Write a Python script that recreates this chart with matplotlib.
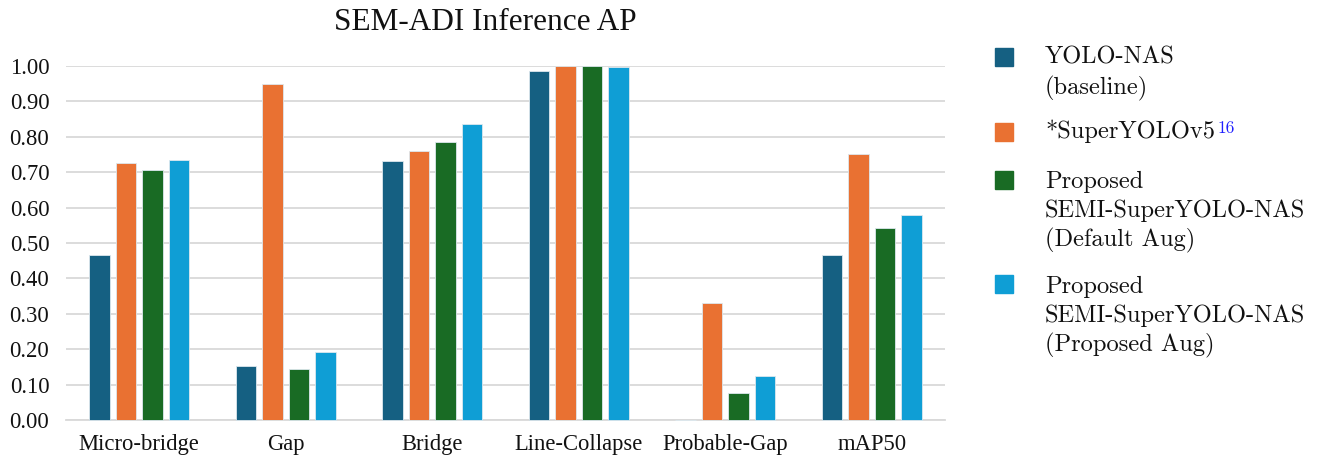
import numpy as np
import matplotlib.pyplot as plt

clases = ['Micro-bridge', 'Gap', 'Bridge', 'Line-Collapse', 'Probable-Gap', 'mAP50']
yolo_nas = [0.466, 0.153, 0.732, 0.986, 0.0, 0.466]
super_yolov5 = [0.727, 0.949, 0.760, 1.0, 0.330, 0.751]
semi_default = [0.706, 0.144, 0.785, 1.0, 0.076, 0.542]
semi_propuesto = [0.734, 0.192, 0.836, 0.997, 0.124, 0.579]

series = [yolo_nas, super_yolov5, semi_default, semi_propuesto]
colores = ['#156082', '#E97132', '#196B24', '#0F9ED5']
etiquetas = [['YOLO-NAS', '(baseline)'],
             ['*SuperYOLOv5'],
             ['Proposed', 'SEMI-SuperYOLO-NAS', '(Default Aug)'],
             ['Proposed', 'SEMI-SuperYOLO-NAS', '(Proposed Aug)']]
ticks_y = np.arange(0, 1.01, 0.1)

plt.rcParams['font.family'] = ['Liberation Serif', 'DejaVu Serif']

W, H = 1320, 459
fig = plt.figure(figsize=(W / 100, H / 100), dpi=100)
ax = fig.add_axes([66 / W, 1 - 420 / H, (945 - 66) / W, (420 - 66) / H])

x = np.arange(len(clases))
ancho = 0.14
paso = 0.182
for i, (vals, c) in enumerate(zip(series, colores)):
    ax.bar(x + (i - 1.5) * paso, vals, ancho, color=c, edgecolor='#dde8ee',
           linewidth=0.6, zorder=3, clip_on=False)

ax.set_xlim(-0.5, len(clases) - 0.5)
ax.set_ylim(0, 1.0)
ax.set_yticks(ticks_y)
ax.set_yticklabels(['{:.2f}'.format(t) for t in ticks_y])
ax.set_xticks(x)
ax.set_xticklabels(clases)
ax.tick_params(axis='both', length=0, labelsize=16.3, colors='#111111')
ax.tick_params(axis='y', pad=12)
ax.tick_params(axis='x', pad=10)
ax.grid(axis='y', color='#d9d9d9', linewidth=1.3, zorder=0)
for s in ['top', 'right', 'left']:
    ax.spines[s].set_visible(False)
ax.spines['bottom'].set_color('#d9d9d9')
ax.spines['bottom'].set_linewidth(1.3)

fig.text(485 / W, 1 - 22 / H, 'SEM-ADI Inference AP', ha='center', va='center',
         fontsize=22.5, color='#111111')

# Leyenda armada a mano para poder poner la referencia en azul
cuadros_y = [56.5, 132, 180, 284]
lineas_y = [[57, 88], [131], [182, 211, 240], [287, 316, 345]]
ref = None
for c, cy, lab, ly in zip(colores, cuadros_y, etiquetas, lineas_y):
    fig.patches.append(plt.Rectangle((995 / W, 1 - (cy + 9) / H), 18 / W, 18 / H,
                                     transform=fig.transFigure, color=c))
    for texto, yy in zip(lab, ly):
        t = fig.text(1045 / W, 1 - yy / H, texto, ha='left', va='center',
                     fontsize=17.6, color='#111111', family='cmr10')
        if texto == '*SuperYOLOv5':
            ref = t

# superindice de la cita
fig.add_artist(plt.matplotlib.text.Annotation(
    '16', xy=(1.0, 1.0), xycoords=ref, xytext=(2, -1), textcoords='offset points',
    ha='left', va='top', fontsize=12.5, color='#2020ff', family='cmr10'))

fig.savefig('out.png', dpi=100)
